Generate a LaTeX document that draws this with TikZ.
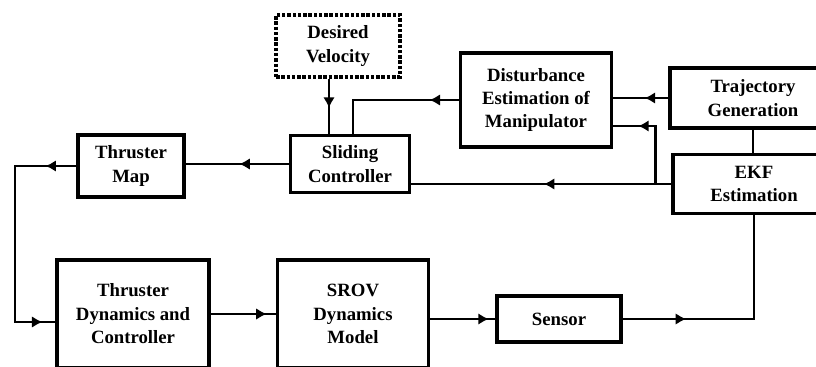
\documentclass[tikz,border=0pt]{standalone}
\usepackage{fontspec}
\setmainfont{Liberation Serif}
\usetikzlibrary{arrows.meta,decorations.markings,calc}
\newcommand{\px}{0.03cm}
\tikzset{
  blk/.style={draw, line width=2.8pt, align=center, inner sep=0pt,
    font=\bfseries\fontsize{16}{20}\selectfont},
  wire/.style={line width=2.2pt},
  midarrow/.style={postaction={decorate,decoration={markings,
    mark=at position #1 with {\arrow{Latex[length=9pt,width=10pt]}}}}}
}
\begin{document}
\begin{tikzpicture}[x=\px,y=-\px]
			\useasboundingbox (0,0) rectangle (816,367);
			\clip (0,0) rectangle (816,367);
			%blocks
			\node (vel) at (338,46) [blk, dash pattern=on 3pt off 1.5pt, minimum width=124*\px, minimum height=62*\px]{Desired\\Velocity};
			\node (slide) at (350,164) [blk, minimum width=119*\px, minimum height=57*\px]{Sliding\\Controller};
			\node (tmap) at (131,166) [blk, minimum width=106*\px, minimum height=62*\px]{Thruster\\Map};
			\node (dist) at (536,100) [blk, minimum width=151*\px, minimum height=94*\px]{Disturbance\\Estimation of\\Manipulator};
			\node (traj) at (753,98) [blk, minimum width=166*\px, minimum height=60*\px]{Trajectory\\Generation};
			\node (ekf) at (754,184) [blk, minimum width=162*\px, minimum height=59*\px]{EKF\\Estimation};
			\node (tdyn) at (133,314) [blk, minimum width=152*\px, minimum height=108*\px]{Thruster\\Dynamics and\\Controller};
			\node (srov) at (353,314) [blk, minimum width=151*\px, minimum height=108*\px]{SROV\\Dynamics\\Model};
			\node (sensor) at (559,319) [blk, minimum width=124*\px, minimum height=46*\px]{Sensor};
			
			%upper loop
			\draw[wire, midarrow=0.53] ($(vel.south)+(-9,0)$) coordinate (v) -- (v |- slide.north);
			\draw[wire, midarrow=0.21] (dist.west) -| ($(slide.north)+(3,0)$);
			\draw[wire, midarrow=0.43] (traj.west) -- (traj.west -| dist.east);
			\draw[wire, midarrow=0.49] (ekf.west) -- (ekf.west -| slide.east);
			\coordinate (br) at ($(ekf.west)+(-16,0)$);
			\draw[wire, midarrow=0.75] (br) |- ($(dist.east)+(0,26)$);
			\draw[wire] (traj.south) -- (traj.south |- ekf.north);
			\draw[wire, midarrow=0.48] (slide.west) -- (slide.west -| tmap.east);
			
			%lower loop
			\coordinate (lc) at (15,166);
			\draw[wire, midarrow=0.12, midarrow=0.95] (tmap.west) -- (tmap.west -| lc) |- ($(tdyn.west)+(0,8)$);
			\draw[wire, midarrow=0.86] (tdyn.east) -- (tdyn.east -| srov.west);
			\draw[wire, midarrow=0.9] (srov.east |- sensor.west) -- (sensor.west);
			\draw[wire, midarrow=0.27] (sensor.east) -| (ekf.south);
		\end{tikzpicture}
\end{document}
